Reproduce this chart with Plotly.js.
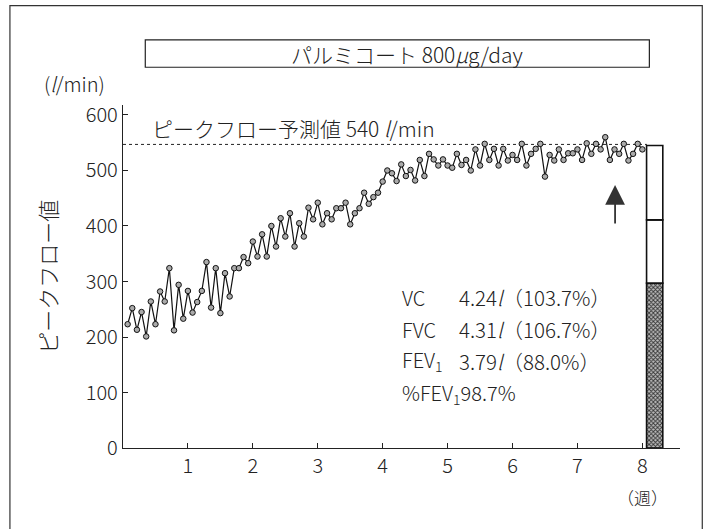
<!DOCTYPE html>
<html><head><meta charset="utf-8">
<script src="https://cdn.plot.ly/plotly-3.0.1.min.js"></script>
<style>html,body{margin:0;padding:0;background:#fff}#c{width:706px;height:529px}</style>
</head><body><div id="c"></div>
<script>
// Peak flow (l/min), morning/evening readings over 8 weeks
const peakFlow = [223,252,213,245,201,264,223,282,264,324,212,294,233,283,244,263,283,335,253,324,
243,315,273,324,324,344,333,372,345,385,345,400,363,414,381,423,363,405,381,433,
412,442,403,423,412,432,432,442,403,423,432,460,440,452,460,480,500,495,481,511,
490,501,482,519,490,530,520,509,520,509,505,530,510,519,500,538,509,548,519,539,
509,539,518,528,519,548,509,530,539,548,489,528,518,538,519,531,531,538,519,549,
530,548,538,560,519,538,530,548,518,530,548,538];
const readingsPerWeek = 14;
const weeks = peakFlow.map((_, i) => (i + 1) / readingsPerWeek);
const predicted = 547;
const predictedLabel = 'ピークフロー予測値 540 <i>l</i>/min';
const xTicks = [1,2,3,4,5,6,7,8];
const yTicks = [0,100,200,300,400,500,600];
// spirometry bar at week 8 (stacked segments)
const barBase = [0, 297, 411];
const barHeights = [297, 114, 134];
const spiroLabels = ['VC', 'FVC', 'FEV<sub>1</sub>', '%FEV<sub>1</sub>98.7%'];
const spiroValues = ['4.24<i>l</i>（103.7%）', '4.31<i>l</i>（106.7%）', '3.79<i>l</i>（88.0%）', ''];
const spiroY = [272, 214, 157, 99];
// marker arrow (week, l/min): tail -> head
const arrowWeek = 7.58, arrowTail = 402, arrowHead = 474;

const FONT = '"Noto Sans CJK JP", "Noto Sans", sans-serif';
const f = (size) => ({family: FONT, size: size, color: '#222', weight: 300});
const barX = 8.19, barW = 0.25;

const traces = [
  {x: [0, 8.07], y: [predicted, predicted], mode: 'lines', line: {color: '#222', width: 1, dash: '3px,3px'}, hoverinfo: 'skip'},
  {x: weeks, y: peakFlow, mode: 'lines+markers', line: {color: '#111', width: 1.2},
   marker: {symbol: 'circle', size: 5.5, color: '#aaa', line: {color: '#111', width: 1}}},
  {type: 'bar', x: [barX], y: [barHeights[0]], base: [barBase[0]], width: barW,
   marker: {color: '#9a9a9a', line: {color: '#111', width: 1.6},
            pattern: {shape: 'x', fgcolor: '#333', bgcolor: '#bbb', size: 3, solidity: 0.5}}},
  {type: 'bar', x: [barX], y: [barHeights[1]], base: [barBase[1]], width: barW,
   marker: {color: '#fff', line: {color: '#111', width: 1.6}}},
  {type: 'bar', x: [barX], y: [barHeights[2]], base: [barBase[2]], width: barW,
   marker: {color: '#fff', line: {color: '#111', width: 1.6}}}
];

const annotations = [
  {xref: 'paper', yref: 'paper', x: -0.087, y: 1.062, text: '(<i>l</i>/min)', showarrow: false,
   font: f(20), xanchor: 'center', yanchor: 'middle'},
  {x: 0.42, y: predicted, text: predictedLabel, showarrow: false, xanchor: 'left', yanchor: 'bottom',
   yshift: -1, font: f(21)},
  {xref: 'paper', yref: 'paper', x: -0.138, y: 0.5, text: 'ピークフロー値', textangle: -90, showarrow: false,
   font: f(22), xanchor: 'center', yanchor: 'middle'},
  {x: 8.0, y: 0, yshift: -49, text: '（週）', showarrow: false, xanchor: 'center', yanchor: 'middle',
   font: f(17)},
  {xref: 'paper', yref: 'paper', x: 0.51, y: 1.15, text: 'パルミコート 800<i>μ</i>g/day', showarrow: false,
   font: f(21), xanchor: 'center', yanchor: 'middle'},
  {x: arrowWeek, y: arrowHead, ax: arrowWeek, ay: arrowTail, axref: 'x', ayref: 'y', text: '', showarrow: true,
   arrowhead: 2, arrowsize: 2.2, arrowwidth: 1.8, arrowcolor: '#333'}
];
spiroLabels.forEach((t, i) => {
  annotations.push({x: 4.27, y: spiroY[i], text: t, showarrow: false, xanchor: 'left', yanchor: 'middle', font: f(20)});
  if (spiroValues[i]) annotations.push({x: 5.15, y: spiroY[i], text: spiroValues[i], showarrow: false,
    xanchor: 'left', yanchor: 'middle', font: f(20.5)});
});

const layout = {
  width: 706, height: 529, margin: {l: 123, r: 26, t: 105, b: 81},
  paper_bgcolor: '#fff', plot_bgcolor: '#fff', showlegend: false, barmode: 'overlay',
  font: f(20),
  xaxis: {range: [0, 8.58], tickvals: xTicks, ticktext: xTicks.map(String), ticks: 'inside', ticklen: 5,
          tickcolor: '#222', showline: true, linecolor: '#222', linewidth: 1.2, showgrid: false, zeroline: false,
          tickfont: f(20)},
  yaxis: {range: [0, 618], tickvals: yTicks, ticks: 'inside', ticklen: 5, tickcolor: '#222',
          showline: true, linecolor: '#222', linewidth: 1.2, showgrid: false, zeroline: false,
          tickfont: f(20)},
  shapes: [
    {type: 'rect', xref: 'paper', yref: 'paper', x0: -0.203, x1: 1.04, y0: -0.26, y1: 1.29,
     line: {color: '#333', width: 1.2}},
    {type: 'rect', xref: 'paper', yref: 'paper', x0: 0.04, x1: 0.945, y0: 1.11, y1: 1.19,
     line: {color: '#222', width: 1.2}}
  ],
  annotations: annotations
};
Plotly.newPlot('c', traces, layout, {displayModeBar: false, staticPlot: true});
</script></body></html>
